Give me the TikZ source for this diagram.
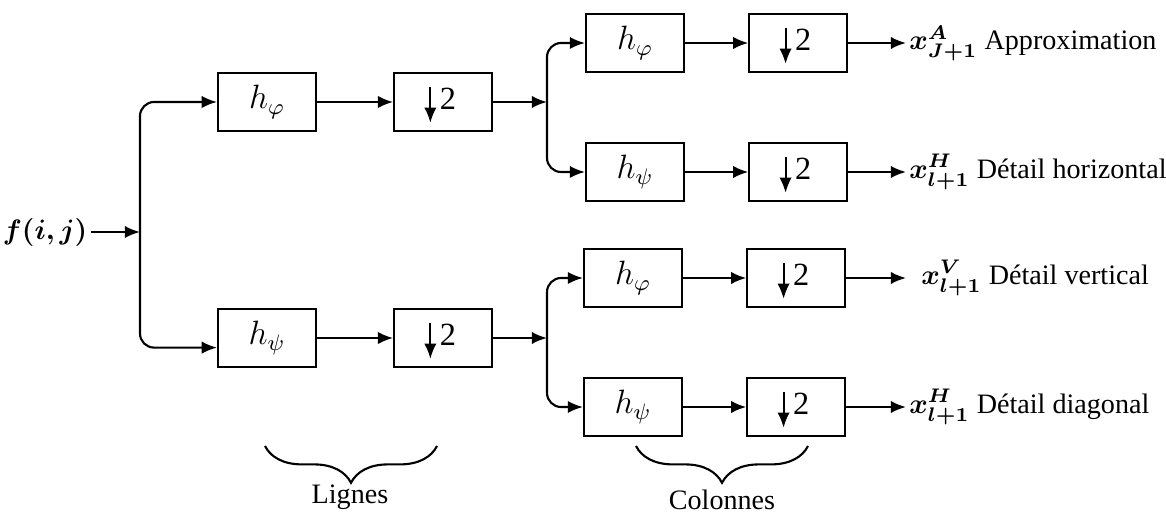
\documentclass[tikz,border=0pt]{standalone}
\usepackage{amsmath,amssymb,bm}
\usepackage{fontspec}
\setmainfont{Liberation Serif}
\usetikzlibrary{arrows.meta,positioning,decorations.pathreplacing}
\tikzset{
  filtbox/.style={draw, line width=0.75pt, minimum width=1.225cm, minimum height=0.725cm, inner sep=0pt, font=\fontsize{11.5}{13}\selectfont},
  arr/.style={-{Latex[length=5.4pt,width=4.4pt]}, line width=0.75pt},
  dsbox/.style={filtbox, path picture={
      \draw[arr] ([xshift=-0.16cm,yshift=0.19cm]path picture bounding box.center) -- ++(0,-0.45cm);}},
  splitarr/.style={-{Latex[length=5.4pt,width=4.4pt]}, line width=0.75pt, rounded corners=5pt},
  outlbl/.style={anchor=west, inner sep=1pt},
  brc/.style={decorate, decoration={brace, mirror, amplitude=0.46cm}, line width=0.75pt}
}
\newcommand{\dsmp}{\hspace*{0.12cm}\raisebox{0.09cm}{2}}

\begin{document}
\begin{tikzpicture}[x=0.0125cm, y=-0.0125cm, font=\fontsize{10}{12}\selectfont]
\useasboundingbox (0,0) rectangle (1166,516);
% entree
\node[inner sep=1pt] (fij) at (45,232) {$\boldsymbol{f(i,j)}$};
\coordinate (s1) at (140,232);
% lignes
\node[filtbox] (hA) at (267,102) {$h_\varphi$};
\node[dsbox, right=0.95cm of hA] (dA) {\dsmp};
\node[filtbox] (hB) at (267,338) {$h_\psi$};
\node[dsbox, right=0.95cm of hB] (dB) {\dsmp};
\coordinate (s2) at (547,102);
\coordinate (s3) at (547,338);
% colonnes
\node[filtbox] (hAA) at (635,43) {$h_\varphi$};
\node[dsbox, right=0.79cm of hAA] (dAA) {\dsmp};
\node[filtbox] (hAB) at (635,172) {$h_\psi$};
\node[dsbox, right=0.79cm of hAB] (dAB) {\dsmp};
\node[filtbox] (hBA) at (633,278) {$h_\varphi$};
\node[dsbox, right=0.79cm of hBA] (dBA) {\dsmp};
\node[filtbox] (hBB) at (633,407) {$h_\psi$};
\node[dsbox, right=0.79cm of hBB] (dBB) {\dsmp};
% sorties
\node[outlbl] (oAA) at (906,43) {$\boldsymbol{x^{A}_{J+1}}$ Approximation};
\node[outlbl] (oAB) at (906,172) {$\boldsymbol{x^{H}_{l+1}}$ Détail horizontal};
\node[outlbl] (oBA) at (918,278) {$\boldsymbol{x^{V}_{l+1}}$ Détail vertical};
\node[outlbl] (oBB) at (906,407) {$\boldsymbol{x^{H}_{l+1}}$ Détail diagonal};

\draw[arr] (fij) -- (s1);
\draw[splitarr] (s1) |- (hA.west);
\draw[splitarr] (s1) |- ([yshift=-0.12cm]hB.west);
\draw[arr] (hA) -- (dA);
\draw[arr] (hB) -- (dB);
\draw[arr] (dA) -- (s2);
\draw[arr] (dB) -- (s3);
\draw[splitarr] (s2) |- (hAA.west);
\draw[splitarr] (s2) |- (hAB.west);
\draw[splitarr] (s3) |- (hBA.west);
\draw[splitarr] (s3) |- (hBB.west);
\draw[arr] (hAA) -- (dAA);
\draw[arr] (hAB) -- (dAB);
\draw[arr] (hBA) -- (dBA);
\draw[arr] (hBB) -- (dBB);
\draw[arr] (dAA) -- (oAA);
\draw[arr] (dAB) -- (oAB);
\draw[arr] (dBA) -- ([xshift=-0.15cm]oBA.west);
\draw[arr] (dBB) -- (oBB);

% accolades
\draw[brc] (265,446) -- (437,446);
\node (lig) at (350,497) {Lignes};
\draw[brc] (636,446) -- (808,446);
\node (col) at (722,500) {Colonnes};
\end{tikzpicture}
\end{document}
